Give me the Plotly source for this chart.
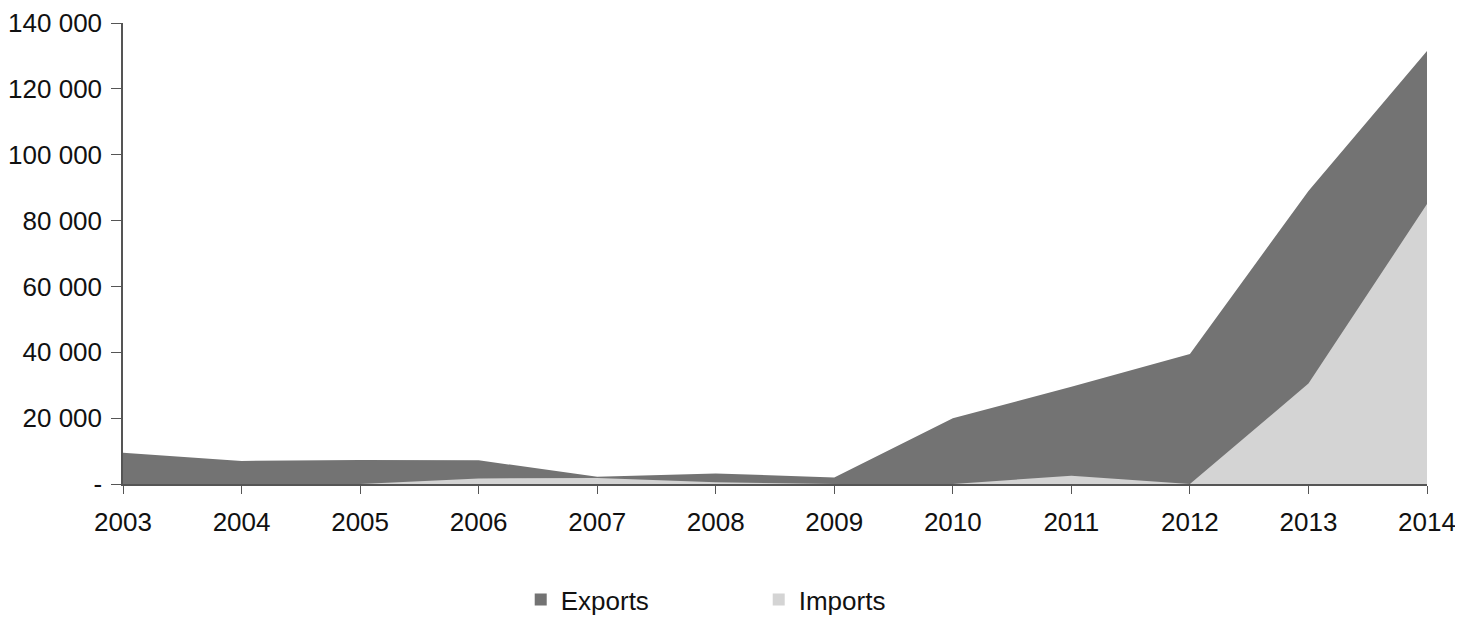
import plotly.graph_objects as go

years = [2003, 2004, 2005, 2006, 2007, 2008, 2009, 2010, 2011, 2012, 2013, 2014]
exports = [9500, 7000, 7300, 7200, 2200, 3200, 2000, 20000, 29500, 39500, 89000, 131500]
imports = [0, 0, 0, 1700, 1800, 500, 0, 0, 2500, 0, 30500, 85000]
tick_vals = [0, 20000, 40000, 60000, 80000, 100000, 120000, 140000]
tick_text = ["-", "20 000", "40 000", "60 000", "80 000", "100 000", "120 000", "140 000"]

c_exp = "#737373"
c_imp = "#d4d4d4"
font_family = "Liberation Sans Narrow, Liberation Sans, Arial, sans-serif"

fig = go.Figure()
fig.add_trace(go.Scatter(x=years, y=exports, mode="none", fill="tozeroy",
                         fillcolor=c_exp, showlegend=False, name="Exports"))
fig.add_trace(go.Scatter(x=years, y=imports, mode="none", fill="tozeroy",
                         fillcolor=c_imp, showlegend=False, name="Imports"))
for nm, col in [("Exports", c_exp), ("Imports", c_imp)]:
    fig.add_trace(go.Scatter(x=[None], y=[None], mode="markers", name=nm,
                             marker=dict(symbol="square", size=11, color=col)))

fig.update_layout(
    width=1455, height=610,
    margin=dict(l=115, r=36, t=15, b=134),
    paper_bgcolor="white", plot_bgcolor="white",
    font=dict(family=font_family, size=26, color="#111111"),
    showlegend=True,
    legend=dict(orientation="h", x=0.305, xanchor="left",
                y=0.03, yref="container", yanchor="middle",
                entrywidth=193, entrywidthmode="pixels",
                font=dict(size=26), itemsizing="constant"),
)
fig.update_xaxes(range=[2003, 2014], tickvals=years, ticktext=[str(y) for y in years],
                 showgrid=False, zeroline=False, showline=True, linecolor="#555555",
                 linewidth=1.5, ticks="outside", ticklen=8, tickcolor="#555555",
                 ticklabelstandoff=6, automargin=False)
fig.update_yaxes(range=[0, 140000], tickvals=tick_vals, ticktext=tick_text,
                 showgrid=False, zeroline=False, showline=True, linecolor="#555555",
                 linewidth=1.5, ticks="outside", ticklen=10, tickcolor="#555555",
                 ticklabelstandoff=4, automargin=False)

fig.write_html("out.html")
